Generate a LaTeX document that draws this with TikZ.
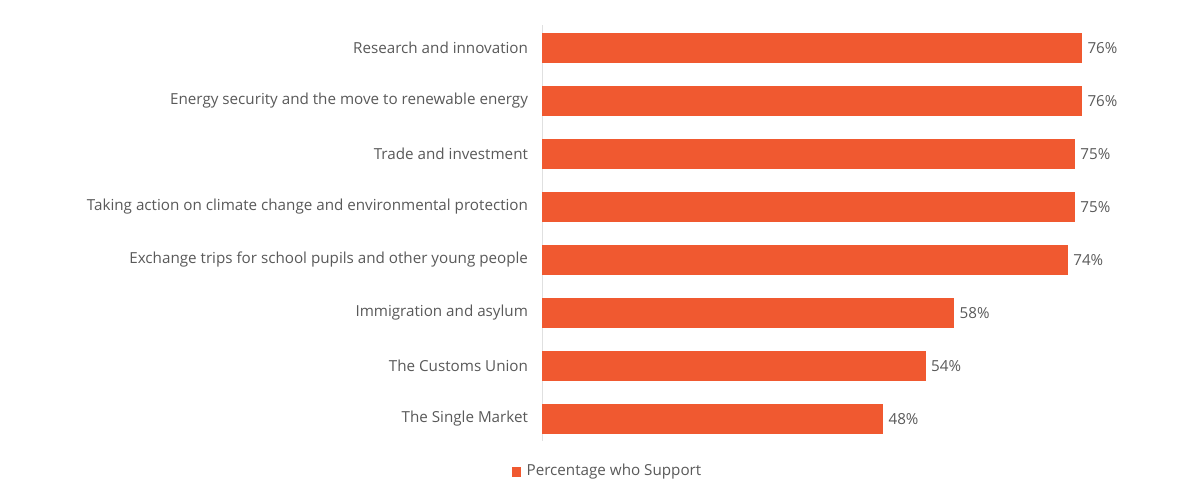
\documentclass[tikz,border=0pt]{standalone}
\usepackage{fontspec}
\setmainfont{Open Sans}
\definecolor{barorange}{RGB}{240,89,48}
\definecolor{labelgray}{RGB}{89,89,89}
\begin{document}
\begin{tikzpicture}[x=1pt, y=-1pt, font=\fontsize{15.2}{17}\selectfont, text=labelgray]
 \useasboundingbox (0,0) rectangle (1200,486);
 \coordinate (axtop) at (542,25);
 \coordinate (axbot) at (542,441);
 \draw[black!12, line width=0.8] (axtop) -- (axbot);
 \foreach\lab/\val [count=\i] in {Research and innovation/76,
   Energy security and the move to renewable energy/76,
   Trade and investment/75,
   Taking action on climate change and environmental protection/75,
   Exchange trips for school pupils and other young people/74,
   Immigration and asylum/58,
   The Customs Union/54,
   The Single Market/48}{
   \pgfmathsetmacro\yc{48+53*(\i-1)}
   \pgfmathsetmacro\xe{542+7.105*\val}
   \fill[barorange] (542,\yc-15) rectangle (\xe,\yc+15);
   \node[left] (lab\i) at (531.5,\yc) {\lab};
   \node[right] (val\i) at (\xe+2,\yc) {\val\%};
 }
 \node[fill=barorange, minimum size=9.5, inner sep=0] (key) at (516.5,472) {};
 \node[right, inner sep=0] (keytext) at ([xshift=5]key.east) {Percentage who Support};
\end{tikzpicture}
\end{document}
